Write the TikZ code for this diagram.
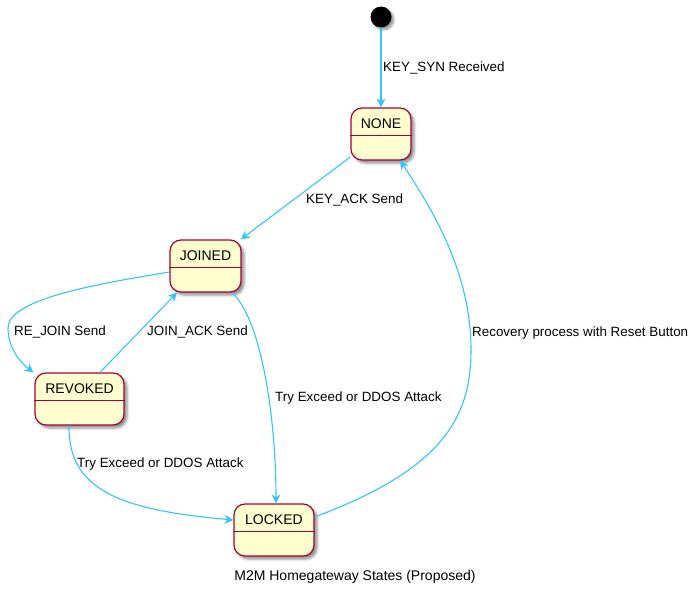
\documentclass[tikz,border=0pt]{standalone}
\usepackage{fontspec}
\setmainfont{Liberation Sans}
\usetikzlibrary{arrows.meta,shadows.blur}
\definecolor{stateborder}{HTML}{A80036}
\definecolor{statefill}{HTML}{FEFECE}
\definecolor{edgeblue}{RGB}{51,196,255}
\tikzset{
  statebox/.style={draw=stateborder, fill=statefill, line width=1.2pt,
    rounded corners=11pt, minimum height=52pt, inner sep=0pt,
    blur shadow={shadow xshift=3pt, shadow yshift=-3pt, shadow blur radius=2.5pt, shadow opacity=45}},
  statename/.style={font=\fontsize{14}{16}\selectfont, inner sep=0pt, anchor=center},
  divider/.style={draw=stateborder, line width=1.2pt},
  edge/.style={draw=edgeblue, line width=1.1pt, -{Stealth[length=9pt,width=9pt,inset=3pt]}},
  edgelabel/.style={font=\fontsize{13.4}{15}\selectfont, inner sep=0pt, anchor=west},
}
\begin{document}
\begin{tikzpicture}[x=1pt, y=-1pt]
\useasboundingbox (0,0) rectangle (689,589);

% initial pseudo-state
\node[circle, fill=black, minimum size=21pt, inner sep=0pt,
  blur shadow={shadow xshift=2.5pt, shadow yshift=-2.5pt, shadow blur radius=2pt, shadow opacity=40}]
  (start) at (381,17) {};

% states
\node[statebox, minimum width=60pt] (none)    at (381,134)   {};
\node[statebox, minimum width=71pt] (joined)  at (205.5,266) {};
\node[statebox, minimum width=89pt] (revoked) at (79.5,399)  {};
\node[statebox, minimum width=80pt] (locked)  at (274,530)   {};

\foreach \s/\t in {none/NONE, joined/JOINED, revoked/REVOKED, locked/LOCKED}{
  \draw[divider] ([yshift=-28pt]\s.north west) -- ([yshift=-28pt]\s.north east);
  \node[statename] (\s-name) at ([yshift=-16pt]\s.north) {\t};
}

% transitions
\draw[edge] (start) -- (none);
\draw[edge] (none) -- (joined);
\draw[edge] ([yshift=-6pt]joined.west)
  .. controls (90,285) and (8,300) .. (8,328)
  .. controls (8,348) and (20,362) .. ([xshift=-1pt]revoked.north west);
\draw[edge] ([xshift=20.5pt]revoked.north) -- ([xshift=-28.5pt]joined.south);
\draw[edge] ([xshift=26.5pt]joined.south)
  .. controls (262,320) and (276,420) .. ([xshift=2pt]locked.north);
\draw[edge] ([xshift=-10.5pt]revoked.south)
  .. controls (68,490) and (120,510) .. ([yshift=10pt]locked.west);
\draw[edge] ([yshift=13pt]locked.east)
  .. controls (440,470) and (471,420) .. (471,350)
  .. controls (471,280) and (440,220) .. ([xshift=19pt]none.south);

% transition labels
\node[edgelabel] (l-syn)     at (383,68)  {KEY\_SYN Received};
\node[edgelabel] (l-ack)     at (306,200) {KEY\_ACK Send};
\node[edgelabel] (l-rejoin)  at (14,332)  {RE\_JOIN Send};
\node[edgelabel] (l-joinack) at (147,332) {JOIN\_ACK Send};
\node[edgelabel] (l-try1)    at (275,398) {Try Exceed or DDOS Attack};
\node[edgelabel] (l-try2)    at (77,464)  {Try Exceed or DDOS Attack};
\node[edgelabel] (l-reset)   at (472,333) {Recovery process with Reset Button};

% caption
\node[font=\fontsize{14}{16}\selectfont, inner sep=0pt] (caption) at (355,577)
  {M2M Homegateway States (Proposed)};
\end{tikzpicture}
\end{document}
